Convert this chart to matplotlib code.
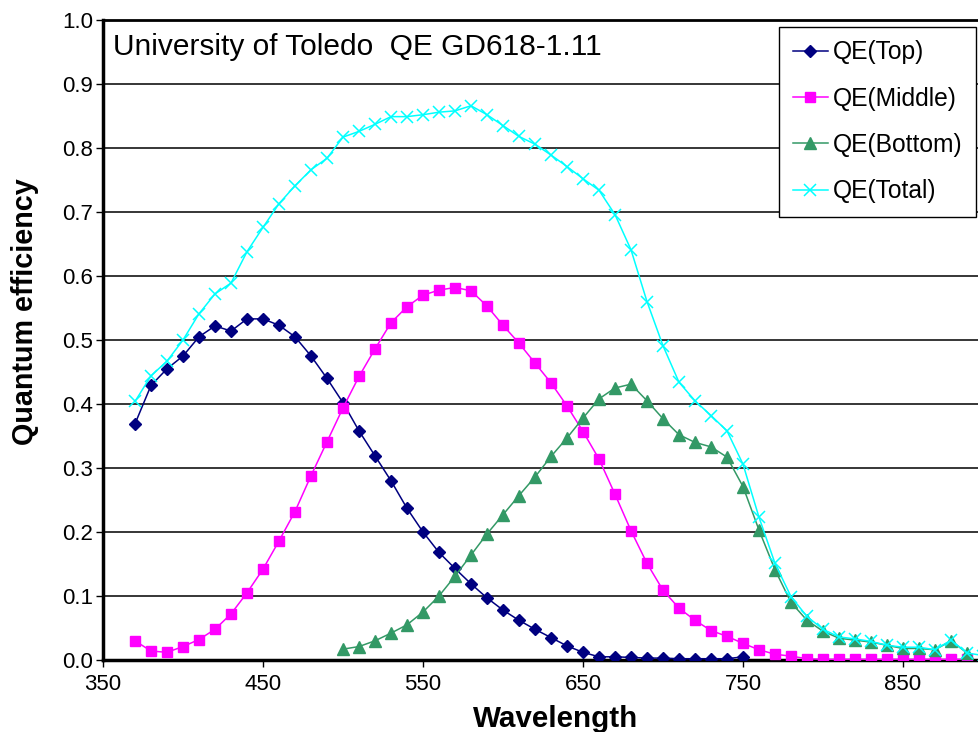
import matplotlib.pyplot as plt

# dados (QE por comprimento de onda, nm)
wl_top = [370, 380, 390, 400, 410, 420, 430, 440, 450, 460, 470, 480, 490,
          500, 510, 520, 530, 540, 550, 560, 570, 580, 590, 600, 610, 620,
          630, 640, 650, 660, 670, 680, 690, 700, 710, 720, 730, 740, 750]
qe_top = [0.369, 0.429, 0.455, 0.475, 0.505, 0.522, 0.514, 0.533, 0.533, 0.523,
          0.505, 0.475, 0.440, 0.402, 0.358, 0.319, 0.280, 0.237, 0.200, 0.168,
          0.143, 0.119, 0.097, 0.078, 0.062, 0.048, 0.035, 0.022, 0.012, 0.005,
          0.005, 0.004, 0.003, 0.003, 0.002, 0.002, 0.002, 0.002, 0.005]

wl_mid = [370, 380, 390, 400, 410, 420, 430, 440, 450, 460, 470, 480, 490,
          500, 510, 520, 530, 540, 550, 560, 570, 580, 590, 600, 610, 620,
          630, 640, 650, 660, 670, 680, 690, 700, 710, 720, 730, 740, 750,
          760, 770, 780, 790, 800, 810, 820, 830, 840, 850, 860, 870, 880, 890]
qe_mid = [0.030, 0.014, 0.012, 0.021, 0.032, 0.048, 0.072, 0.105, 0.142, 0.186,
          0.232, 0.288, 0.341, 0.394, 0.443, 0.486, 0.527, 0.552, 0.570, 0.578,
          0.582, 0.577, 0.553, 0.523, 0.495, 0.464, 0.433, 0.397, 0.357, 0.314,
          0.259, 0.202, 0.151, 0.109, 0.081, 0.062, 0.046, 0.037, 0.026, 0.016,
          0.009, 0.006, 0.002, 0.001, 0.001, 0.001, 0.001, 0.001, 0.001, 0.001,
          0.001, 0.001, 0.001]

wl_bot = [500, 510, 520, 530, 540, 550, 560, 570, 580, 590, 600, 610, 620,
          630, 640, 650, 660, 670, 680, 690, 700, 710, 720, 730, 740, 750,
          760, 770, 780, 790, 800, 810, 820, 830, 840, 850, 860, 870, 880, 890]
qe_bot = [0.017, 0.021, 0.030, 0.042, 0.055, 0.075, 0.100, 0.131, 0.164, 0.197,
          0.227, 0.257, 0.286, 0.318, 0.347, 0.378, 0.408, 0.425, 0.431, 0.405,
          0.377, 0.352, 0.340, 0.333, 0.317, 0.271, 0.203, 0.141, 0.090, 0.062,
          0.045, 0.034, 0.031, 0.028, 0.023, 0.018, 0.018, 0.016, 0.030, 0.011]

wl_tot = [370, 380, 390, 400, 410, 420, 430, 440, 450, 460, 470, 480, 490,
          500, 510, 520, 530, 540, 550, 560, 570, 580, 590, 600, 610, 620,
          630, 640, 650, 660, 670, 680, 690, 700, 710, 720, 730, 740, 750,
          760, 770, 780, 790, 800, 810, 820, 830, 840, 850, 860, 870, 880, 890,
          900]
qe_tot = [0.404, 0.444, 0.467, 0.500, 0.541, 0.572, 0.589, 0.638, 0.676, 0.713,
          0.741, 0.766, 0.784, 0.817, 0.826, 0.837, 0.849, 0.849, 0.852, 0.856,
          0.858, 0.866, 0.852, 0.835, 0.818, 0.806, 0.789, 0.771, 0.752, 0.734,
          0.696, 0.641, 0.560, 0.491, 0.434, 0.405, 0.382, 0.358, 0.306, 0.223,
          0.151, 0.099, 0.068, 0.048, 0.036, 0.033, 0.029, 0.023, 0.020, 0.020,
          0.016, 0.031, 0.011, 0.007]

x_ticks = [350, 450, 550, 650, 750, 850]
y_ticks = [0.0, 0.1, 0.2, 0.3, 0.4, 0.5, 0.6, 0.7, 0.8, 0.9, 1.0]

plt.rcParams['font.family'] = ['Liberation Sans', 'DejaVu Sans']

fig = plt.figure(figsize=(9.79, 7.32), dpi=100)
ax = fig.add_axes([103/979, 72/732, 880/979, 640/732])

ax.plot(wl_top, qe_top, color='#000080', lw=1.1, marker='D', ms=6.5,
        mec='#000080', label='QE(Top)', zorder=3)
ax.plot(wl_mid, qe_mid, color='#FF00FF', lw=1.1, marker='s', ms=7.5,
        mec='#FF00FF', label='QE(Middle)', zorder=3)
ax.plot(wl_bot, qe_bot, color='#339966', lw=1.1, marker='^', ms=8,
        mec='#339966', label='QE(Bottom)', zorder=3)
ax.plot(wl_tot, qe_tot, color='#00FFFF', lw=1.1, marker='x', ms=8, mew=1.1,
        label='QE(Total)', zorder=4)

ax.set_xlim(350, 900)
ax.set_ylim(0, 1.0)
ax.set_xticks(x_ticks)
ax.set_yticks(y_ticks)
ax.set_yticklabels(['%.1f' % v for v in y_ticks])
ax.tick_params(axis='both', labelsize=16, direction='out', length=5,
               width=1, color='black')
ax.tick_params(axis='y', pad=2)
ax.tick_params(axis='x', pad=5)

# grade horizontal preta
ax.yaxis.grid(True, color='black', lw=1.1)
ax.set_axisbelow(True)

ax.spines['left'].set_linewidth(2.5)
ax.spines['bottom'].set_linewidth(2.5)
ax.spines['top'].set_linewidth(2)
ax.spines['right'].set_visible(False)

ax.text(10/880, 0.958, 'University of Toledo  QE GD618-1.11',
        transform=ax.transAxes, fontsize=21.5, va='center', ha='left')

fig.text(25/979, 1 - 312/732, 'Quantum efficiency', rotation=90,
         fontsize=20.7, fontweight='bold', ha='center', va='center')
fig.text(556/979, 1 - 727/732, 'Wavelength', fontsize=21.3,
         fontweight='bold', ha='center', va='baseline')

leg = ax.legend(loc='upper right', bbox_to_anchor=(976/979, 1 - 27/732),
                bbox_transform=fig.transFigure, fontsize=17.7, numpoints=1,
                frameon=True, fancybox=False, framealpha=1, edgecolor='black',
                borderpad=0.54, labelspacing=0.91, handlelength=1.45,
                handletextpad=0.2, borderaxespad=0)
leg.get_frame().set_linewidth(1)
leg.set_zorder(10)

fig.savefig('out.png', dpi=100)
